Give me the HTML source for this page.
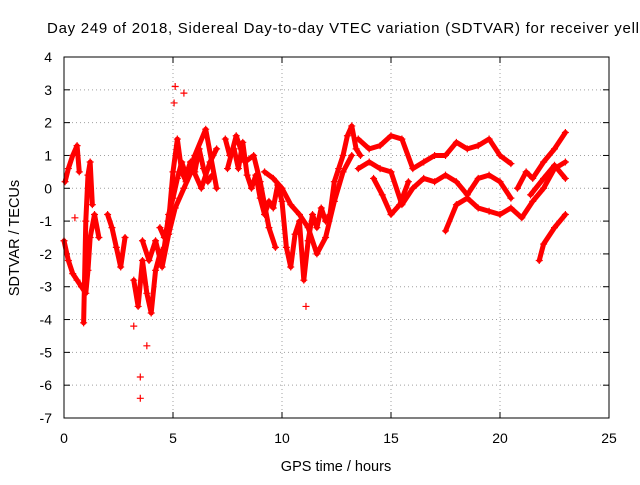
<!DOCTYPE html>
<html><head><meta charset="utf-8"><style>
body{margin:0;background:#fff}
svg{font-family:"Liberation Sans",sans-serif}
</style></head><body>
<svg id="chart" width="640" height="480" viewBox="0 0 640 480" xmlns="http://www.w3.org/2000/svg">
<rect width="640" height="480" fill="#fff"/>
<text x="47" y="33" font-size="15" textLength="592" lengthAdjust="spacing" fill="#000">Day 249 of 2018, Sidereal Day-to-day VTEC variation (SDTVAR) for receiver yell</text>
<g id="grid"></g>
<g id="ticks"></g>
<g id="series"></g>
<rect x="64" y="57" width="545" height="361" fill="none" stroke="#000" stroke-width="1"/>
<text x="336" y="471" font-size="14.5" text-anchor="middle">GPS time / hours</text>
<text transform="translate(19,238) rotate(-90)" font-size="14.5" text-anchor="middle">SDTVAR / TECUs</text>
</svg>
<script>
const xTicks=[0,5,10,15,20,25];
const yTicks=[4,3,2,1,0,-1,-2,-3,-4,-5,-6,-7];
const traceA=[[0,-1.6],[0.2,-2.2],[0.4,-2.6],[0.6,-2.8],[0.8,-3.0],[1.0,-3.2],[1.1,-2.5],[1.2,-1.5],[1.4,-0.8],[1.6,-1.5]];
const traceB=[[0.05,0.2],[0.2,0.6],[0.4,1.0],[0.6,1.3],[0.7,0.5]];
const traceC=[[0.9,-4.1],[1.0,-1.0],[1.1,0.4],[1.2,0.8],[1.3,-0.5]];
const traceD=[[2.0,-0.8],[2.2,-1.2],[2.4,-1.8],[2.6,-2.4],[2.8,-1.5]];
const traceE=[[3.2,-2.8],[3.4,-3.6],[3.6,-2.2],[3.8,-3.2],[4.0,-3.8],[4.2,-2.5],[4.4,-2.0],[4.6,-1.8],[4.8,-0.8],[5.0,-0.3],[5.2,0.3],[5.4,0.8],[5.6,0.4],[5.8,0.8],[6.0,0.5],[6.2,1.2],[6.4,0.6],[6.6,0.2],[6.8,0.4]];
const traceF=[[4.4,-1.2],[4.6,-1.5],[4.8,-1.0],[5.0,0.5],[5.2,1.5],[5.4,0.5],[5.6,0.2],[6.0,1.0],[6.5,1.8],[7.0,0.0]];
const traceF2=[[3.6,-1.6],[3.9,-2.2],[4.2,-1.6],[4.5,-2.4],[4.8,-1.4],[5.1,-0.6],[5.5,0.0],[5.9,0.6],[6.3,0.0],[6.7,0.8],[7.0,1.2]];
const traceG=[[7.4,1.5],[7.6,1.0],[7.8,1.2],[8.0,0.6],[8.2,1.4],[8.4,0.4],[8.6,0.0],[8.8,0.4],[9.0,-0.3],[9.2,-0.8],[9.4,-0.4],[9.6,-0.6],[9.8,0.1],[10.0,-0.4],[10.2,-1.8],[10.4,-2.4],[10.6,-1.4],[10.8,-1.0],[11.0,-2.8],[11.2,-1.6],[11.4,-0.8],[11.6,-1.2],[11.8,-0.6],[12.0,-1.0],[12.2,-0.8],[12.4,0.2],[12.6,0.6],[12.8,1.0],[13.0,1.6],[13.2,1.9],[13.4,1.2],[13.6,1.0]];
const traceG2=[[7.5,0.6],[7.9,1.6],[8.3,0.8],[8.7,1.0],[9.0,0.2],[9.4,-1.2],[9.7,-1.8]];
const traceH=[[9.2,0.5],[9.6,0.3],[10.0,0.0],[10.4,-0.5],[10.8,-0.8],[11.2,-1.2],[11.6,-2.0],[12.0,-1.5],[12.4,-0.4],[12.8,0.5],[13.2,1.0]];
const traceU=[[13.5,1.5],[14.0,1.2],[14.5,1.3],[15.0,1.6],[15.5,1.5],[16.0,0.6],[16.5,0.8],[17.0,1.0],[17.5,1.0],[18.0,1.4],[18.5,1.2],[19.0,1.3],[19.5,1.5],[20.0,1.0],[20.5,0.75]];
const traceM=[[13.5,0.6],[14.0,0.8],[14.5,0.6],[15.0,0.5],[15.5,-0.5],[16.0,0.0],[16.5,0.3],[17.0,0.2],[17.5,0.4],[18.0,0.2],[18.5,-0.2],[19.0,0.3],[19.5,0.4],[20.0,0.2],[20.5,-0.3]];
const traceL=[[14.2,0.3],[14.6,-0.2],[15.0,-0.8],[15.4,-0.5],[15.8,0.2]];
const traceN=[[17.5,-1.3],[18.0,-0.5],[18.5,-0.3],[19.0,-0.6],[19.5,-0.7],[20.0,-0.8],[20.5,-0.6],[21.0,-0.9],[21.5,-0.4],[22.0,0.0],[22.5,0.6],[23.0,0.8]];
const traceR1=[[20.8,0.0],[21.2,0.5],[21.5,0.3],[22.0,0.8],[22.5,1.2],[23.0,1.7]];
const traceR2=[[21.4,-0.2],[22.0,0.3],[22.5,0.7],[23.0,0.3]];
const traceR3=[[21.8,-2.2],[22.0,-1.7],[22.5,-1.2],[23.0,-0.8]];
const outliers=[[3.5,-5.75],[3.5,-6.4],[3.8,-4.8],[5.1,3.1],[5.5,2.9],[5.05,2.6],[3.2,-4.2],[0.5,-0.9],[11.1,-3.6]];
const traces=[traceA,traceB,traceC,traceD,traceE,traceF,traceF2,traceG,traceG2,traceH,traceU,traceM,traceL,traceN,traceR1,traceR2,traceR3];

const X=t=>64+t*545/25;
const Y=v=>57+(4-v)*361/11;
const NS="http://www.w3.org/2000/svg";
const grid=document.getElementById('grid'),ticks=document.getElementById('ticks'),ser=document.getElementById('series');
function mk(tag,attrs,parent){const e=document.createElementNS(NS,tag);for(const k in attrs)e.setAttribute(k,attrs[k]);parent.appendChild(e);return e;}
xTicks.forEach(t=>{
  if(t>0&&t<25){const g=mk('line',{x1:X(t),x2:X(t),y1:57,y2:418,stroke:'#a0a0a0','stroke-dasharray':'1,3'},grid);
  
  }
  mk('line',{x1:X(t),x2:X(t),y1:418,y2:412,stroke:'#000'},ticks);
  mk('line',{x1:X(t),x2:X(t),y1:57,y2:63,stroke:'#000'},ticks);
  const l=mk('text',{x:X(t),y:443,'font-size':14,'text-anchor':'middle'},ticks);l.textContent=t;
  
  
});
yTicks.forEach(v=>{
  if(v<4&&v>-7){const g=mk('line',{x1:64,x2:609,y1:Y(v),y2:Y(v),stroke:'#a0a0a0','stroke-dasharray':'1,3'},grid);
  
  }
  mk('line',{x1:64,x2:70,y1:Y(v),y2:Y(v),stroke:'#000'},ticks);
  mk('line',{x1:603,x2:609,y1:Y(v),y2:Y(v),stroke:'#000'},ticks);
  const l=mk('text',{x:52,y:Y(v)+5,'font-size':14,'text-anchor':'end'},ticks);l.textContent=v;
  
  
});
function plus(t,v){const x=X(t),y=Y(v);
  const p=mk('path',{d:`M${x-3.5},${y}h7M${x},${y-3.5}v7`,stroke:'#f00','stroke-width':1.2},ser);
  
  }
traces.forEach(tr=>{
  const pl=mk('polyline',{points:tr.map(p=>X(p[0])+','+Y(p[1])).join(' '),fill:'none',stroke:'#f00','stroke-width':5,'stroke-linejoin':'round','stroke-linecap':'round'},ser);
  
  
  tr.forEach(p=>plus(p[0],p[1]));
});
outliers.forEach(p=>plus(p[0],p[1]));
</script>
</body></html>
